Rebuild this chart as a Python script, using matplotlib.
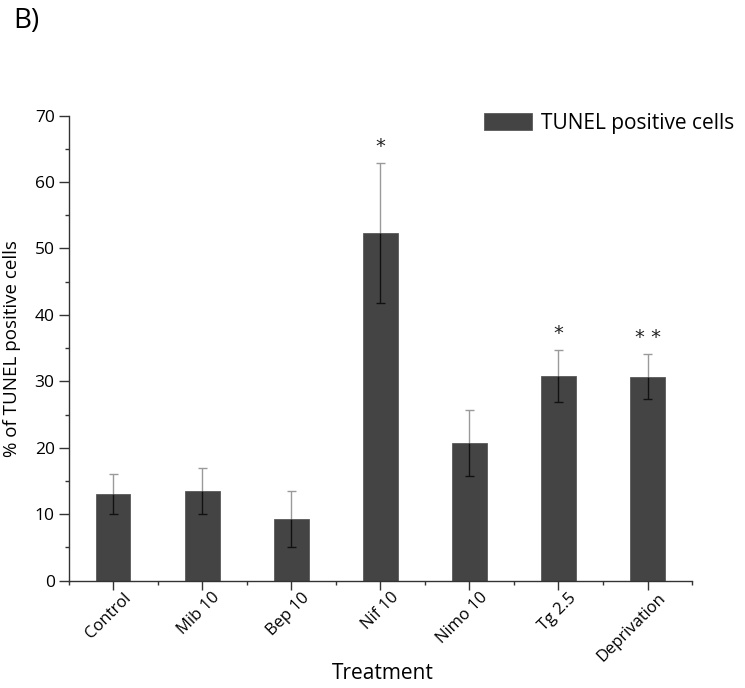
import matplotlib.pyplot as plt
import matplotlib.transforms as mtransforms
import numpy as np

# Data
treatments = ["Control", "Mib 10", "Bep 10", "Nif 10", "Nimo 10", "Tg 2.5", "Deprivation"]
tunel_pct = [13.0, 13.5, 9.3, 52.3, 20.7, 30.8, 30.7]
tunel_err = [3.0, 3.5, 4.2, 10.5, 5.0, 3.9, 3.4]
signif = ["", "", "", "*", "", "*", "* *"]

plt.rcParams['font.family'] = ['Open Sans', 'DejaVu Sans']

fig = plt.figure(figsize=(7.45, 6.88), dpi=100)
ax = fig.add_axes([0.092, 0.156, 0.837, 0.676])

x = np.arange(len(treatments))
bar_color = "#444444"
ax.bar(x, tunel_pct, width=0.39, color=bar_color, edgecolor="#5a5a5a",
       linewidth=0.6, label="TUNEL positive cells", zorder=2)

# error bars: light grey above the bar, dark inside it
vals = np.array(tunel_pct)
errs = np.array(tunel_err)
cap = 0.05
ax.vlines(x, vals, vals + errs, color="#9a9a9a", linewidth=1.0, zorder=3)
ax.hlines(vals + errs, x - cap, x + cap, color="#9a9a9a", linewidth=1.0, zorder=3)
ax.vlines(x, vals - errs, vals, color="#111111", linewidth=1.0, zorder=3)
ax.hlines(vals - errs, x - cap, x + cap, color="#111111", linewidth=1.0, zorder=3)

for xi, v, e, s in zip(x, vals, errs, signif):
    if s:
        ax.text(xi, v + e + 2.5, s, ha="center", va="center", fontsize=14,
                color="#222222", fontfamily="DejaVu Sans")

ax.set_xlim(-0.5, 6.5)
ax.set_ylim(0, 70)
ax.set_yticks(np.arange(0, 71, 10))
ax.set_yticks(np.arange(5, 70, 10), minor=True)
ax.set_xticks(x)
ax.set_xticks(np.arange(-0.5, 6.6, 1.0), minor=True)
ax.set_xticklabels(treatments, rotation=45, ha="right", rotation_mode="anchor")

for side in ["top", "right"]:
    ax.spines[side].set_visible(False)
for side in ["left", "bottom"]:
    ax.spines[side].set_color("#333333")
    ax.spines[side].set_linewidth(1.0)

ax.tick_params(axis="y", which="major", direction="out", length=7, width=1.0,
               color="#333333", labelsize=12.5, pad=3)
ax.tick_params(axis="y", which="minor", direction="out", length=3, width=1.0, color="#333333")
ax.tick_params(axis="x", which="major", direction="out", length=6.5, width=1.0,
               color="#333333", labelsize=12, pad=0)
ax.tick_params(axis="x", which="minor", direction="out", length=3, width=1.0, color="#333333")

# shift rotated labels a bit to the right, as in the original
# (after tick_params, which would reset the transforms)
shift = mtransforms.ScaledTranslation(10 / 100, 0, fig.dpi_scale_trans)
for tick in ax.xaxis.get_major_ticks():
    tick.label1.set_transform(tick.label1.get_transform() + shift)

ax.set_xlabel("Treatment", fontsize=15, va="top")
ax.xaxis.set_label_coords(0.504, -0.178)
ax.set_ylabel("% of TUNEL positive cells", fontsize=13.5)
ax.yaxis.set_label_coords(-0.076, 0.5)

leg = ax.legend(loc="upper left", bbox_to_anchor=(484 / 745, 1 - 113 / 688),
                bbox_transform=fig.transFigure, frameon=False, fontsize=15,
                borderpad=0, borderaxespad=0, handlelength=2.3, handleheight=0.85,
                handletextpad=0.45)

fig.text(0.018, 0.969, "B)", fontsize=20, ha="left", va="center")

fig.savefig("out.png", dpi=100)
